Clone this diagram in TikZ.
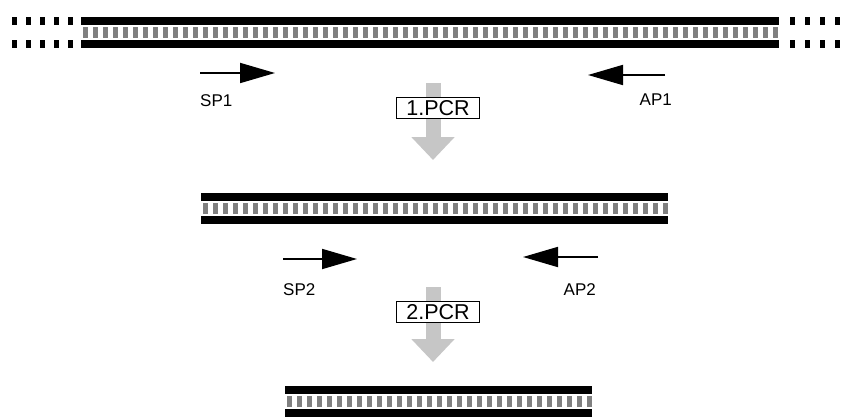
\documentclass[tikz,border=0pt]{standalone}
\usepackage{fontspec}
\setmainfont{Liberation Sans}
\usetikzlibrary{arrows.meta,positioning}
\definecolor{rung}{HTML}{808080}
\definecolor{pcrgray}{HTML}{C6C6C6}

\begin{document}
\begin{tikzpicture}[x=1pt,y=-1pt,every node/.style={font=\fontsize{17}{19}\selectfont,inner sep=0pt},bar/.style={fill=black},rungbar/.style={fill=rung},primer/.style={-{Triangle[length=35pt,width=20pt]},line width=1.8pt},pcrarr/.style={-{Triangle[length=23pt,width=42pt]},line width=15pt,pcrgray},pcrbox/.style={draw,line width=1pt,fill=white,minimum width=83pt,minimum height=21pt,font=\fontsize{21.5}{23}\selectfont}]
\useasboundingbox (0,0) rectangle (848,417);
\foreach \xa/\xb/\ya/\n in {81/779/17/69,201/668/193/46,285/592/386/30}{
  \fill[bar] (\xa,\ya) rectangle (\xb,\ya+8);
  \fill[bar] (\xa,\ya+23) rectangle (\xb,\ya+31);
  \foreach \i in {0,...,\n} \fill[rungbar] ({\xa+2+10*\i},\ya+10) rectangle +(4.5,11);
}
\foreach \x in {12,26,40,54,68,790,805,820,835}{
  \fill[bar] (\x,17) rectangle +(4.5,8);
  \fill[bar] (\x,40) rectangle +(4.5,8);
}
\coordinate (sp1a) at (200,73); \coordinate (sp1b) at (275,73);
\coordinate (ap1a) at (665,75); \coordinate (ap1b) at (588,75);
\coordinate (sp2a) at (283,259); \coordinate (sp2b) at (357,259);
\coordinate (ap2a) at (598,257); \coordinate (ap2b) at (523,257);
\draw[primer] (sp1a) -- (sp1b); \draw[primer] (ap1a) -- (ap1b);
\draw[primer] (sp2a) -- (sp2b); \draw[primer] (ap2a) -- (ap2b);
\node[below right=21pt and 0pt of sp1a] (sp1) {SP1};
\node[below left=19pt and -7pt of ap1a] (ap1) {AP1};
\node[below right=24pt and 0pt of sp2a] (sp2) {SP2};
\node[below left=26pt and 2pt of ap2a] (ap2) {AP2};
\coordinate (t1) at (433,83); \coordinate (b1) at (433,160);
\coordinate (t2) at (433,287); \coordinate (b2) at (433,362);
\draw[pcrarr] (t1) -- (b1); \draw[pcrarr] (t2) -- (b2);
\node[pcrbox] (pcr1) at (438,108) {1.PCR};
\node[pcrbox] (pcr2) at (438,312) {2.PCR};
\end{tikzpicture}
\end{document}
